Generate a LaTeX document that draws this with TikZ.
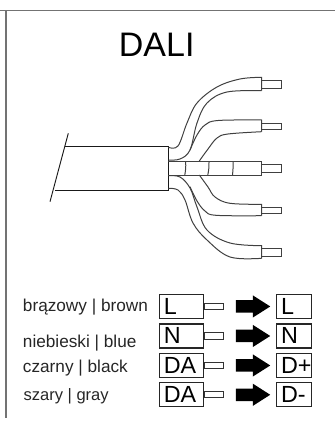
\documentclass[tikz,border=0pt]{standalone}
\usepackage{fontspec}
\setmainfont{Liberation Sans}
\usetikzlibrary{positioning,shapes.arrows}

\tikzset{
  frameline/.style={draw=black!55,line width=1pt},
  wireline/.style={draw=black!75,line width=0.75pt},
  cableline/.style={draw=black!90,line width=0.7pt},
  legendtext/.style={anchor=base west,inner sep=0pt,font=\fontsize{12.9pt}{14pt}\selectfont,text=black!85},
  termbox/.style={draw=black!85,line width=0.8pt,anchor=south west,align=left,
    font=\fontsize{17.5pt}{18pt}\selectfont,text height=12pt,text depth=0pt,inner ysep=3pt},
  sourcebox/.style={termbox,text width=27pt,inner xsep=3pt},
  targetbox/.style={termbox,text width=19.5pt,inner xsep=3.2pt},
  stubbox/.style={draw=black!80,line width=0.7pt,fill=white,minimum width=13.7pt,minimum height=4.6pt,inner sep=0pt},
  blackarrow/.style={single arrow,fill=black,inner xsep=0pt,inner ysep=4.5pt,minimum height=25.8pt,
    single arrow head extend=3.6pt,single arrow tip angle=65},
}

\begin{document}
\begin{tikzpicture}[x=0.75pt,y=-0.75pt]
    \useasboundingbox (0,0) rectangle (335,421);

    % frame
    \draw[frameline] (0,10.5) -- (335,10.5);
    \draw[frameline] (6,10.5) -- (6,418);

    \node[anchor=base,inner sep=0pt,font=\fontsize{25.5pt}{28pt}\selectfont] (title) at (156.7,56) {DALI};

    % cable jacket
    \draw[cableline] (68.3,133.3) -- (50,201.7);
    \draw[cableline] (65.3,146) -- (168.3,146) -- (168.3,190) -- (55,190);

    % middle core
    \draw[wireline] (168.3,161.7) -- (261.7,161.7) -- (261.7,175) -- (168.3,175);
    \draw[wireline] (185.7,162) to[bend left=6] (184.8,175);
    \draw[wireline] (209,162) to[bend left=6] (207.8,175);
    \draw[wireline] (233,162) to[bend left=4] (232.5,175);

    % upper wires
    \draw[wireline] plot[smooth,tension=0.6] coordinates {(168.3,147.3) (178,146) (187,123) (197,103) (217,87) (240,79) (261.7,77.3)} -- (261.7,90.7);
    \draw[wireline] plot[smooth,tension=0.6] coordinates {(168.3,160) (180,159) (190,150) (197,123) (207,103) (227,92) (261.7,90.7)};
    \draw[wireline] plot[smooth,tension=0.6] coordinates {(190,150) (197,135) (205,125) (218,120.5) (261.7,120)} -- (261.7,131.7);
    \draw[wireline] plot[smooth,tension=0.6] coordinates {(199.3,161) (208,149) (217,138) (228,134) (261.7,131.7)};

    % lower wires
    \draw[wireline] plot[smooth,tension=0.6] coordinates {(199.3,175) (208,187) (215,197) (230,203.3) (261.7,204.3)} -- (261.7,215.7);
    \draw[wireline] plot[smooth,tension=0.6] coordinates {(190,186.7) (197,201) (205,211) (216,215.3) (261.7,215.7)};
    \draw[wireline] plot[smooth,tension=0.6] coordinates {(168.3,175.7) (180,177) (190,188) (197,207) (207,230) (230,243) (261.7,245.7)} -- (261.7,258.3);
    \draw[wireline] plot[smooth,tension=0.6] coordinates {(168.3,188.3) (178,190) (185,200) (193,223) (207,240) (230,257) (261.7,258.3)};

    % bare conductors
    \draw[wireline] (261.7,80.7) rectangle (281,88.7);
    \draw[wireline] (261.7,123.3) rectangle (281,129.3);
    \draw[wireline] (261.7,164.3) rectangle (281,172.3);
    \draw[wireline] (261.7,207) rectangle (281,213);
    \draw[wireline] (261.7,248.3) rectangle (281,256);

    % legend
    \node[legendtext] (brown) at (22.7,311) {brązowy | brown};
    \node[legendtext] (blue) at (22.7,347.3) {niebieski | blue};
    \node[legendtext] (black) at (22.7,372.3) {czarny | black};
    \node[legendtext,font=\fontsize{12.4pt}{14pt}\selectfont] (gray) at (23.3,400) {szary | gray};

    \node[sourcebox] (sourceL) at (159.3,319) {L};
    \node[sourcebox] (sourceN) at (159.3,348.5) {N};
    \node[sourcebox] (sourceDA) at (159.3,378) {DA};
    \node[sourcebox] (sourceDB) at (159.3,407.3) {DA};

    \node[stubbox,right=0pt of sourceL] (stubL) {};
    \node[stubbox,right=0pt of sourceN] (stubN) {};
    \node[stubbox,right=0pt of sourceDA] (stubDA) {};
    \node[stubbox,right=0pt of sourceDB] (stubDB) {};

    \node[blackarrow,right=9pt of stubL] (arrowL) {};
    \node[blackarrow,right=9pt of stubN] (arrowN) {};
    \node[blackarrow,right=9pt of stubDA] (arrowDA) {};
    \node[blackarrow,right=9pt of stubDB] (arrowDB) {};

    \node[targetbox] (targetL) at (276.3,319) {L};
    \node[targetbox] (targetN) at (276.3,348.5) {N};
    \node[targetbox] (targetDA) at (276.3,378) {D+};
    \node[targetbox] (targetDB) at (276.3,407.3) {D-};
\end{tikzpicture}
\end{document}
